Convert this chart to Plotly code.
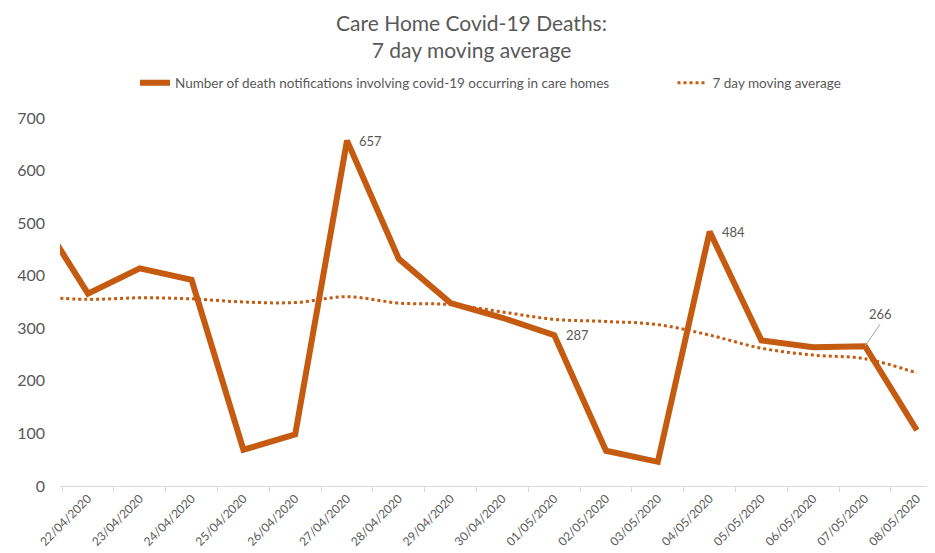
import plotly.graph_objects as go

# 21/04 sits just off the left edge of the axis, only its line segment shows
dates = ['21/04/2020', '22/04/2020', '23/04/2020', '24/04/2020', '25/04/2020',
         '26/04/2020', '27/04/2020', '28/04/2020', '29/04/2020', '30/04/2020',
         '01/05/2020', '02/05/2020', '03/05/2020', '04/05/2020', '05/05/2020',
         '06/05/2020', '07/05/2020', '08/05/2020']
deaths = [523, 366, 414, 392, 69, 98, 657, 432, 348, 320, 287, 67, 46, 484,
          277, 264, 266, 106]
moving_avg = [360, 355, 358, 356, 350, 349, 360, 348, 345, 331, 317, 313, 307,
              287, 262, 249, 242, 215]

labelled = {'27/04/2020': 657, '01/05/2020': 287, '04/05/2020': 484}

line_color = '#C55A11'
font_color = '#595959'
font_family = 'Lato'

fig = go.Figure()
fig.add_trace(go.Scatter(
    x=dates,
    y=deaths,
    mode='lines',
    name='Number of death notifications involving covid-19 occurring in care homes',
    line=dict(color=line_color, width=6),
    legend='legend',
    showlegend=True,
))
fig.add_trace(go.Scatter(
    x=dates,
    y=moving_avg,
    mode='lines',
    name='7 day moving average',
    line=dict(color=line_color, width=3, dash='dot', shape='spline'),
    legend='legend2',
    showlegend=True,
))

for d, v in labelled.items():
    fig.add_annotation(
        x=d, y=v, text=str(v), showarrow=False,
        xanchor='left', yanchor='middle', xshift=10,
        font=dict(size=13, color=font_color),
    )
fig.add_annotation(
    x='07/05/2020', y=266, text='266', showarrow=True,
    arrowhead=0, arrowwidth=1, arrowcolor='#A6A6A6',
    ax=15, ay=-22, yanchor='bottom',
    font=dict(size=13, color=font_color),
)

fig.update_xaxes(
    type='category',
    range=[0.46, 17.35],
    tickson='boundaries',
    ticks='outside',
    ticklen=5,
    tickcolor='#D9D9D9',
    tickangle=-45,
    showline=True,
    linecolor='#D9D9D9',
    linewidth=1,
    showgrid=False,
    tickfont=dict(size=12, color=font_color),
    automargin=False,
)
fig.update_yaxes(
    range=[0, 700],
    dtick=100,
    showgrid=False,
    zeroline=False,
    tickfont=dict(size=16, color=font_color),
    ticklabelstandoff=14,
    automargin=False,
)

legend_style = dict(orientation='h', y=1.095, yanchor='middle', xanchor='left',
                    bgcolor='rgba(0,0,0,0)',
                    font=dict(size=13.5, color=font_color))
fig.update_layout(
    width=927,
    height=545,
    showlegend=True,
    title={'text': 'Care Home Covid-19 Deaths:<br>7 day moving average',
           'x': 0.5, 'xanchor': 'center', 'y': 0.958, 'yanchor': 'top',
           'font': dict(size=21, color=font_color)},
    legend=dict(legend_style, x=0.0857),
    legend2=dict(legend_style, x=0.70),
    font_family=font_family,
    plot_bgcolor='white',
    paper_bgcolor='white',
    margin=dict(l=52, r=0, t=110, b=67),
)

fig.write_html('out.html')
